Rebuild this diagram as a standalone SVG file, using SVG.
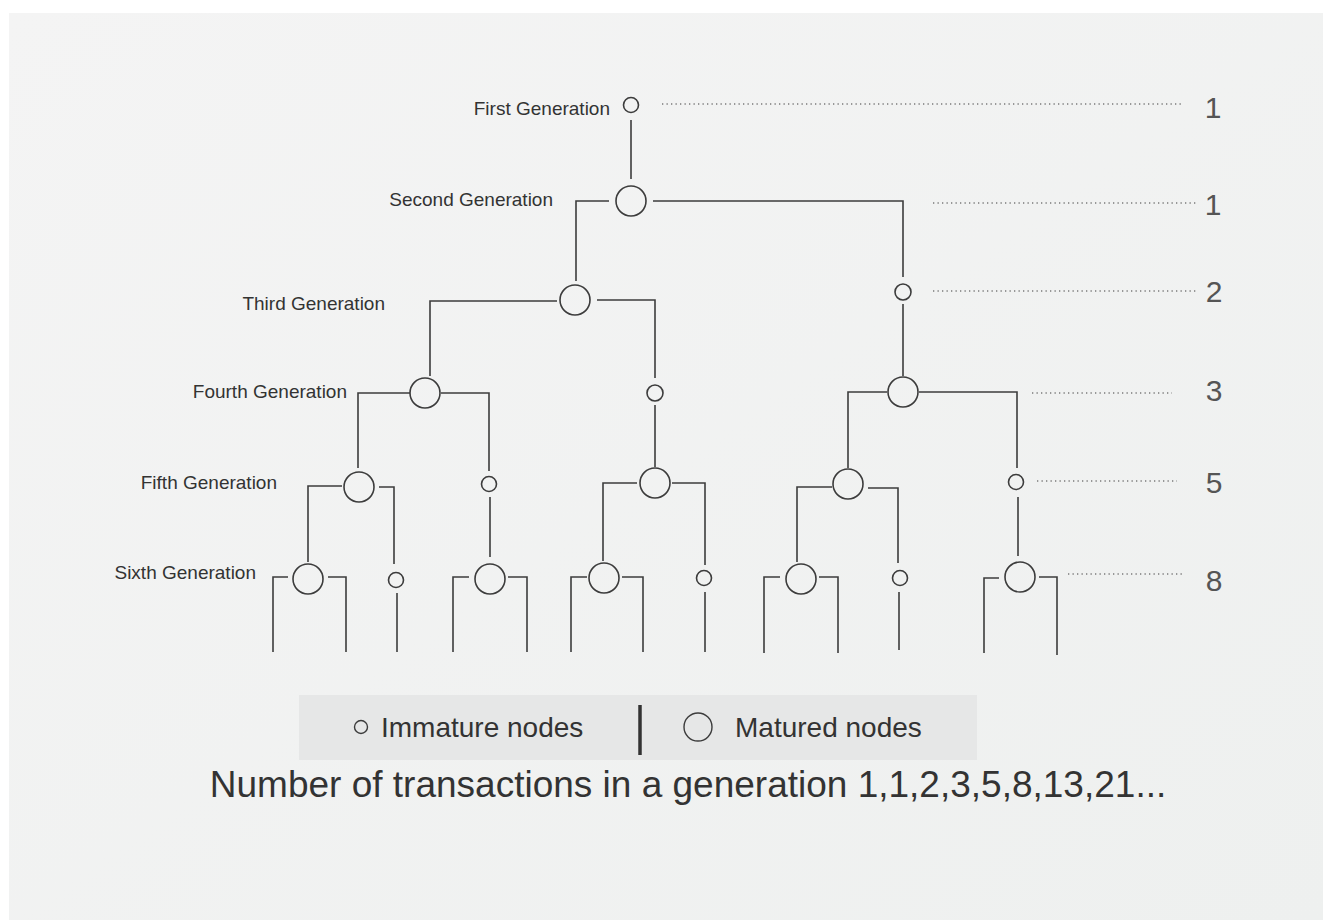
<svg xmlns="http://www.w3.org/2000/svg" width="1323" height="920" viewBox="0 0 1323 920">
<defs>
<linearGradient id="bg" x1="0" y1="0" x2="1" y2="1">
<stop offset="0" stop-color="#f4f4f4"/>
<stop offset="1" stop-color="#eef0ef"/>
</linearGradient>
<style>
.ln{fill:none;stroke:#3c3c3c;stroke-width:1.6}
.nd{fill:none;stroke:#3c3c3c;stroke-width:1.6}
.dot{fill:none;stroke:#7a7a7a;stroke-width:1.3;stroke-dasharray:1.3 3.2}
.lbl{font-family:"Liberation Sans",Arial,sans-serif;font-size:19px;fill:#333;text-anchor:end}
.num{font-family:"Liberation Sans",Arial,sans-serif;font-size:30px;fill:#555;text-anchor:middle}
.leg{font-family:"Liberation Sans",Arial,sans-serif;font-size:28px;fill:#333}
</style>
</defs>
<rect x="0" y="0" width="1323" height="920" fill="#ffffff"/>
<rect x="9" y="13" width="1314" height="907" fill="url(#bg)"/>

<g id="connectors">
<line class="ln" x1="631" y1="120" x2="631" y2="179"/>
<path class="ln" d="M609,201 H576 V281"/>
<path class="ln" d="M653,201 H903 V277"/>
<path class="ln" d="M557,301 H430 V376"/>
<path class="ln" d="M597,300 H655 V378"/>
<line class="ln" x1="903" y1="304" x2="903" y2="376"/>
<path class="ln" d="M410,393 H358 V468"/>
<path class="ln" d="M441,393 H489 V471"/>
<line class="ln" x1="655" y1="405" x2="655" y2="467"/>
<path class="ln" d="M887,392 H848 V468"/>
<path class="ln" d="M919,392 H1017 V468"/>
<path class="ln" d="M342,486 H308 V562"/>
<path class="ln" d="M379,487 H394 V564"/>
<line class="ln" x1="490" y1="497" x2="490" y2="557"/>
<path class="ln" d="M637,483 H603 V561"/>
<path class="ln" d="M672,483 H705 V565"/>
<path class="ln" d="M832,487 H797 V562"/>
<path class="ln" d="M868,488 H898 V563"/>
<line class="ln" x1="1018" y1="497" x2="1018" y2="556"/>
<path class="ln" d="M288,577 H273 V652"/>
<path class="ln" d="M328,577 H346 V652"/>
<line class="ln" x1="397" y1="593" x2="397" y2="652"/>
<path class="ln" d="M469,577 H453 V652"/>
<path class="ln" d="M508,577 H527 V652"/>
<path class="ln" d="M587,577 H571 V652"/>
<path class="ln" d="M622,577 H643 V652"/>
<line class="ln" x1="705" y1="592" x2="705" y2="652"/>
<path class="ln" d="M780,577 H764 V653"/>
<path class="ln" d="M819,577 H838 V653"/>
<line class="ln" x1="899" y1="592" x2="899" y2="650"/>
<path class="ln" d="M999,578 H984 V653"/>
<path class="ln" d="M1039,577 H1057 V655"/>
</g>

<g id="dotted">
<line class="dot" x1="662" y1="104" x2="1181" y2="104"/>
<line class="dot" x1="933" y1="203" x2="1196" y2="203"/>
<line class="dot" x1="933" y1="291" x2="1196" y2="291"/>
<line class="dot" x1="1032" y1="393" x2="1172" y2="393"/>
<line class="dot" x1="1037" y1="481" x2="1177" y2="481"/>
<line class="dot" x1="1068" y1="574" x2="1182" y2="574"/>
</g>

<g id="labels">
<text class="lbl" x="610" y="115">First Generation</text>
<text class="lbl" x="553" y="206">Second Generation</text>
<text class="lbl" x="385" y="310">Third Generation</text>
<text class="lbl" x="347" y="398">Fourth Generation</text>
<text class="lbl" x="277" y="489">Fifth Generation</text>
<text class="lbl" x="256" y="579">Sixth Generation</text>
</g>

<g id="counts">
<text class="num" x="1213" y="118">1</text>
<text class="num" x="1213" y="215">1</text>
<text class="num" x="1214" y="302">2</text>
<text class="num" x="1214" y="401">3</text>
<text class="num" x="1214" y="493">5</text>
<text class="num" x="1214" y="591">8</text>
</g>

<g id="n1"><circle class="nd" cx="631" cy="105" r="7.5"/></g>
<g id="n2"><circle class="nd" cx="631" cy="201" r="15"/></g>
<g id="n3a"><circle class="nd" cx="575" cy="300" r="15"/></g>
<g id="n3b"><circle class="nd" cx="903" cy="292" r="8"/></g>
<g id="n4a"><circle class="nd" cx="425" cy="393" r="15"/></g>
<g id="n4b"><circle class="nd" cx="655" cy="393" r="8"/></g>
<g id="n4c"><circle class="nd" cx="903" cy="392" r="15"/></g>
<g id="n5a"><circle class="nd" cx="359" cy="487" r="15"/></g>
<g id="n5b"><circle class="nd" cx="489" cy="484" r="7.5"/></g>
<g id="n5c"><circle class="nd" cx="655" cy="483" r="15"/></g>
<g id="n5d"><circle class="nd" cx="848" cy="484" r="15"/></g>
<g id="n5e"><circle class="nd" cx="1016" cy="482" r="7.5"/></g>
<g id="n6a"><circle class="nd" cx="308" cy="579" r="15"/></g>
<g id="n6b"><circle class="nd" cx="396" cy="580" r="7.5"/></g>
<g id="n6c"><circle class="nd" cx="490" cy="579" r="15"/></g>
<g id="n6d"><circle class="nd" cx="604" cy="578" r="15"/></g>
<g id="n6e"><circle class="nd" cx="704" cy="578" r="7.5"/></g>
<g id="n6f"><circle class="nd" cx="801" cy="579" r="15"/></g>
<g id="n6g"><circle class="nd" cx="900" cy="578" r="7.5"/></g>
<g id="n6h"><circle class="nd" cx="1020" cy="577" r="15"/></g>

<g id="legend">
<rect x="299" y="695" width="678" height="65" fill="#e6e7e7"/>
<circle cx="361" cy="727" r="6.5" fill="none" stroke="#3c3c3c" stroke-width="1.4"/>
<text class="leg" x="381" y="737">Immature nodes</text>
<line x1="640" y1="705" x2="640" y2="755" stroke="#333" stroke-width="3.5"/>
<circle cx="698" cy="727" r="14" fill="none" stroke="#3c3c3c" stroke-width="1.4"/>
<text class="leg" x="735" y="737">Matured nodes</text>
</g>

<text x="688" y="797" text-anchor="middle" font-family="'Liberation Sans', Arial, sans-serif" font-size="37" fill="#333">Number of transactions in a generation 1,1,2,3,5,8,13,21...</text>
</svg>
